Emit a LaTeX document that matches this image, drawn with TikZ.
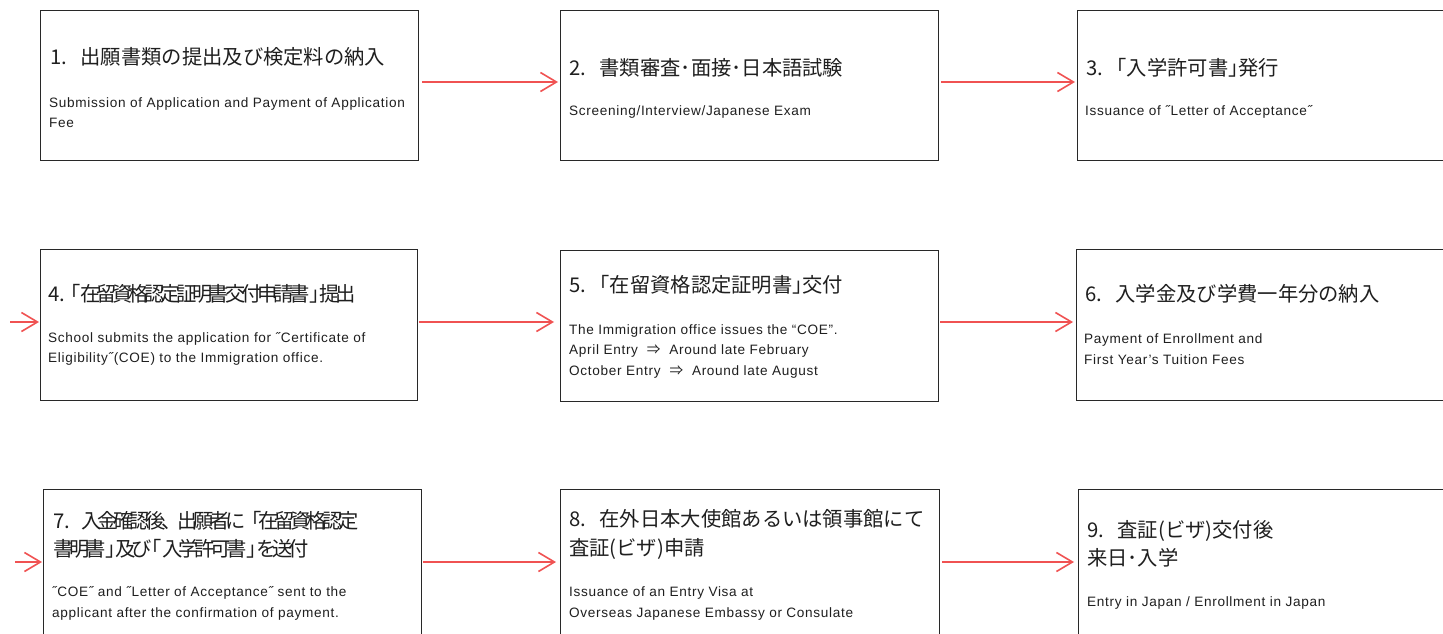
\documentclass[tikz,border=0pt]{standalone}
\usepackage{fontspec}
\setmainfont[LetterSpace=5]{Liberation Sans}
\newfontfamily\jp{Noto Sans CJK JP}
\newfontfamily\jpc[LetterSpace=-21]{Noto Sans CJK JP}
\newcommand\rbk{{\addfontfeatures{RawFeature=+halt}」}}
\newcommand\lbk{{\addfontfeatures{RawFeature=+halt}「}}
\newcommand\nbox[2]{\makebox[#1][l]{#2}}
\usetikzlibrary{arrows.meta}
\definecolor{arrowred}{RGB}{240,82,82}
\definecolor{boxline}{RGB}{40,40,40}
\begin{document}
\begin{tikzpicture}[x=1pt,y=-1pt,
  stepbox/.style={draw=boxline,line width=1.3pt,rectangle,anchor=north west,inner sep=0pt},
  title/.style={anchor=west,inner sep=0pt,align=left,font=\jp\fontsize{20.3}{28.5}\selectfont,text=black!88},
  titlec/.style={anchor=west,inner sep=0pt,align=left,font=\jpc\fontsize{20.3}{28.5}\selectfont,text=black!88},
  eng/.style={anchor=west,inner sep=0pt,align=left,font=\fontsize{13.6}{20.5}\selectfont,text=black!88},
  flow/.style={draw=arrowred,line width=1.6pt,-{Straight Barb[length=16pt,width=19pt,line width=1.6pt]}}]
\useasboundingbox (0,0) rectangle (1443,634);
\fill[white] (0,0) rectangle (1443,634);
% boxes
\node[stepbox,minimum width=378pt,minimum height=150pt] (b1) at (40,10) {};
\node[stepbox,minimum width=378pt,minimum height=150pt] (b2) at (560,10) {};
\node[stepbox,minimum width=400pt,minimum height=150pt] (b3) at (1077,10) {};
\node[stepbox,minimum width=377pt,minimum height=151pt] (b4) at (40,249) {};
\node[stepbox,minimum width=378pt,minimum height=151pt] (b5) at (560,250) {};
\node[stepbox,minimum width=400pt,minimum height=151pt] (b6) at (1076,249) {};
\node[stepbox,minimum width=378pt,minimum height=170pt] (b7) at (43,489) {};
\node[stepbox,minimum width=379pt,minimum height=170pt] (b8) at (560,489) {};
\node[stepbox,minimum width=400pt,minimum height=170pt] (b9) at (1078,489) {};
% texts
\node[title] (t1) at (50,57) {\nbox{1.5em}{1.}出願書類の提出及び検定料の納入};
\node[eng] (e1) at (49,112.5) {Submission of Application and Payment of Application\\Fee};
\node[title] (t2) at (569,68) {\nbox{1.5em}{2.}書類審査･面接･日本語試験};
\node[eng] (e2) at (569,112) {Screening/Interview/Japanese Exam};
\node[title] (t3) at (1086,68) {\nbox{1em}{3.}「入学許可書\rbk 発行};
\node[eng] (e3) at (1085,112) {Issuance of ˝Letter of Acceptance˝};
\node[titlec] (t4) at (48,294) {\nbox{1.1em}{\jp 4.}\lbk 在留資格認定証明書交付申請書\rbk 提出};
\node[eng] (e4) at (48,349) {School submits the application for ˝Certificate of\\Eligibility˝(COE) to the Immigration office.};
\node[title] (t5) at (569,285) {\nbox{1em}{5.}「在留資格認定証明書\rbk 交付};
\node[eng] (e5) at (569,351) {The Immigration office issues the “COE”.\\April Entry\ \ {\jp ⇒}\ \ Around late February\\October Entry\ \ {\jp ⇒}\ \ Around late August};
\node[title] (t6) at (1085,294) {\nbox{1.5em}{6.}入学金及び学費一年分の納入};
\node[eng] (e6) at (1084,349) {Payment of Enrollment and\\First Year's Tuition Fees};
\node[titlec] (t7) at (53,535) {\nbox{1.4em}{\jp 7.}入金確認後、出願者に「在留資格認定\\書明書\rbk 及び\lbk 入学許可書\rbk を送付};
\node[eng] (e7) at (52,603.5) {˝COE˝ and ˝Letter of Acceptance˝ sent to the\\applicant after the confirmation of payment.};
\node[title] (t8) at (569,534.5) {\nbox{1.5em}{8.}在外日本大使館あるいは領事館にて\\査証(ビザ)申請};
\node[eng] (e8) at (569,603.5) {Issuance of an Entry Visa at\\Overseas Japanese Embassy or Consulate};
\node[title] (t9) at (1087,544) {\nbox{1.5em}{9.}査証(ビザ)交付後\\来日･入学};
\node[eng] (e9) at (1087,603) {Entry in Japan / Enrollment in Japan};
% connectors
\coordinate (in4) at (10,322);
\coordinate (in7) at (15,562);
\draw[flow,shorten <=3pt,shorten >=2pt] ([yshift=-72pt]b1.north east) -- ([yshift=-72pt]b2.north west);
\draw[flow,shorten <=2pt,shorten >=2pt] ([yshift=-72pt]b2.north east) -- ([yshift=-72pt]b3.north west);
\draw[flow,shorten >=1pt] (in4) -- ([yshift=-73pt]b4.north west);
\draw[flow,shorten <=1pt,shorten >=6pt] ([yshift=-73pt]b4.north east) -- ([yshift=-72pt]b5.north west);
\draw[flow,shorten <=1pt,shorten >=3pt] ([yshift=-72pt]b5.north east) -- ([yshift=-73pt]b6.north west);
\draw[flow,shorten >=1pt] (in7) -- ([yshift=-73pt]b7.north west);
\draw[flow,shorten <=1pt,shorten >=4pt] ([yshift=-73pt]b7.north east) -- ([yshift=-73pt]b8.north west);
\draw[flow,shorten <=2pt,shorten >=4pt] ([yshift=-73pt]b8.north east) -- ([yshift=-73pt]b9.north west);
\end{tikzpicture}
\end{document}
